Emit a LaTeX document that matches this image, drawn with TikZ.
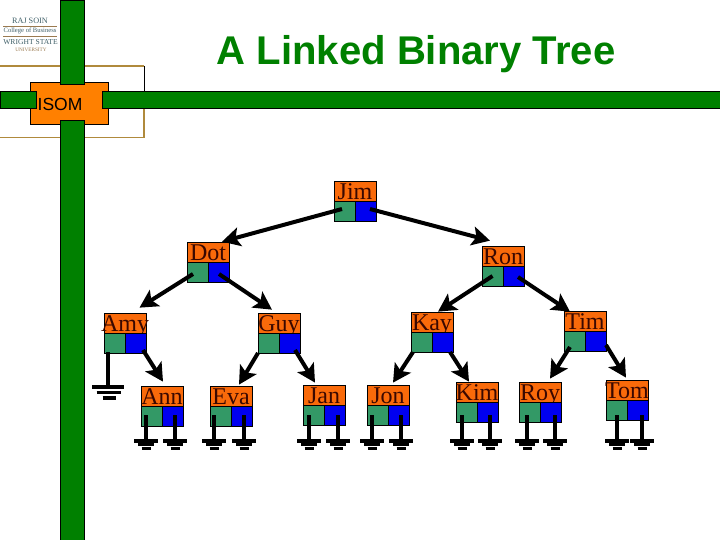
\documentclass[tikz,border=0pt]{standalone}
\usepackage{fontspec}
\setmainfont{Liberation Serif}
\newfontfamily\arialfont{Liberation Sans}
\usetikzlibrary{arrows.meta,calc}
\definecolor{barGreen}{HTML}{008000}
\definecolor{titleGreen}{HTML}{008000}
\definecolor{isomOrange}{HTML}{FF8000}
\definecolor{nodeOrange}{HTML}{F96A0A}
\definecolor{cellGreen}{HTML}{339966}
\definecolor{cellBlue}{HTML}{0000F0}
\definecolor{frameBrown}{HTML}{B08A3C}
\definecolor{labelInk}{HTML}{3A0800}
\definecolor{logoInk}{HTML}{3F5F68}
\definecolor{logoBrown}{HTML}{9A7A50}
\tikzset{
  bar/.style={draw=black,line width=0.7pt,fill=barGreen},
  frameline/.style={draw=frameBrown,line width=1.5pt},
  toplabel/.style={draw=black,line width=0.7pt,fill=nodeOrange,inner sep=0pt,minimum width=42pt,minimum height=20pt,
    text height=18.6pt,text depth=1pt,text=labelInk,font=\fontsize{24}{24}\selectfont},
  leftcell/.style={draw=black,line width=0.7pt,fill=cellGreen,inner sep=0pt,minimum width=21pt,minimum height=20pt},
  rightcell/.style={draw=black,line width=0.7pt,fill=cellBlue,inner sep=0pt,minimum width=21pt,minimum height=20pt},
  link/.style={draw=black,line width=4pt,-{Stealth[length=18pt,width=19pt,inset=4pt]}},
  wire/.style={draw=black,line width=4pt},
  gbar/.style={draw=black,line width=3.8pt},
  logotext/.style={inner sep=0pt,text=logoInk},
}
\newcommand{\tnode}[4]{%
  \node[toplabel] (#1-t) at (#2+21,#3+10) {\makebox[0pt]{#4}};
  \node[leftcell] (#1-l) at (#2+10.5,#3+30) {};
  \node[rightcell] (#1-r) at (#2+31.5,#3+30) {};
}
\newcommand{\tlink}[6]{%
  \draw[link] ([shift={(#2,#3)}]#1.center) -- ([shift={(#5,#6)}]#4.north);
}
\newcommand{\tground}[2]{%
  \coordinate (g#1a) at (#2,415);
  \coordinate (g#1b) at (#2,441);
  \draw[wire] (g#1a) -- (g#1b);
  \draw[gbar] ([xshift=-12pt]g#1b) -- ([xshift=12pt]g#1b);
  \draw[gbar] ([shift={(-8,3.5)}]g#1b) -- ([shift={(8,3.5)}]g#1b);
  \draw[gbar] ([shift={(-4.5,7.5)}]g#1b) -- ([shift={(4.5,7.5)}]g#1b);
}
\begin{document}
\begin{tikzpicture}[x=1pt,y=-1pt]
\useasboundingbox (0,0) rectangle (720,540);
% frame
\draw[frameline] (0,66) -- (144,66);
\draw[draw=black,line width=0.7pt] (144,66) -- (144,92);
\draw[frameline] (144,108) -- (144,137.5) -- (0,137.5);
% orange box
\node[draw=black,line width=0.7pt,fill=isomOrange,minimum width=78pt,minimum height=42pt,inner sep=0pt] (isom) at (69,103.5) {};
\node[inner sep=0pt,font=\arialfont\fontsize{17.5}{18}\selectfont] (isomtext) at (60,104) {ISOM};
% green bars
\fill[bar] (60.5,0) rectangle (84.5,84);
\fill[bar] (60.5,120.5) rectangle (84.5,540);
\fill[bar] (0,91) rectangle (36,108);
\fill[bar] (102.5,91) rectangle (720,108);
% logo
\node[logotext,font=\fontsize{8.2}{9}\selectfont] (logoa) at (30,20.5) {RAJ SOIN};
\draw[draw=logoBrown,line width=0.5pt] (3,26.5) -- (57,26.5);
\node[logotext,font=\fontsize{6.6}{8}\selectfont] (logob) at (30,31) {College of Business};
\draw[draw=logoBrown,line width=0.5pt] (3,36.5) -- (57,36.5);
\node[logotext,font=\fontsize{7.6}{9}\selectfont] (logoc) at (30.5,42.5) {WRIGHT STATE};
\node[logotext,text=logoBrown,font=\fontsize{5.2}{6}\selectfont] (logod) at (31,50) {UNIVERSITY};
% title
\node[inner sep=0pt,text=titleGreen,font=\arialfont\bfseries\fontsize{40.1}{41}\selectfont] (title) at (416,54) {A Linked Binary Tree};
% tree
\tnode{Jim}{334}{181}{Jim}
\tnode{Dot}{187}{242}{Dot}
\tnode{Ron}{482}{246}{Ron}
\tnode{Amy}{104}{313}{Amy}
\tnode{Guy}{258}{313}{Guy}
\tnode{Kay}{411}{312}{Kay}
\tnode{Tim}{564}{311}{Tim}
\tnode{Ann}{141}{386}{Ann}
\tnode{Eva}{210}{386}{Eva}
\tnode{Jan}{303}{385}{Jan}
\tnode{Jon}{367}{385}{Jon}
\tnode{Kim}{456}{382}{Kim}
\tnode{Roy}{519}{382}{Roy}
\tnode{Tom}{606}{380}{Tom}
% links
\tlink{Jim-l}{-2.5}{-2}{Dot-t}{14}{0}
\tlink{Jim-r}{4.5}{-2}{Ron-t}{-13}{-5}
\tlink{Dot-l}{-4.5}{2}{Amy-t}{14.5}{-5}
\tlink{Dot-r}{0.5}{2}{Guy-t}{-7}{-3}
\tlink{Ron-l}{0}{0}{Kay-t}{6}{0}
\tlink{Ron-r}{4.5}{1}{Tim-t}{-15}{1}
\tlink{Amy-r}{7.5}{7}{Ann-t}{1}{-4}
\tlink{Guy-l}{-10.5}{10}{Eva-t}{8}{-1}
\tlink{Guy-r}{5.5}{7}{Jan-t}{-9}{-2}
\tlink{Kay-l}{-8.5}{10}{Jon-t}{5}{-2}
\tlink{Kay-r}{7.5}{10}{Kim-t}{-8}{0}
\tlink{Tim-l}{-4.5}{6}{Roy-t}{10}{-3}
\tlink{Tim-r}{10.5}{4}{Tom-t}{-1}{-2}
% Amy ground
\coordinate (gAmya) at (108,352);
\coordinate (gAmyb) at (108,387);
\draw[wire] (gAmya) -- (gAmyb);
\draw[gbar] ([xshift=-16pt]gAmyb) -- ([xshift=16pt]gAmyb);
\draw[gbar] ([shift={(-11.5,5.5)}]gAmyb) -- ([shift={(12.5,5.5)}]gAmyb);
\draw[gbar] ([shift={(-5.5,11)}]gAmyb) -- ([shift={(7.5,11)}]gAmyb);
% other grounds
\tground{a}{146}\tground{b}{175}
\tground{c}{214}\tground{d}{244}
\tground{e}{309}\tground{f}{338}
\tground{g}{372}\tground{h}{401}
\tground{i}{462}\tground{j}{490}
\tground{k}{527}\tground{l}{555}
\tground{m}{617}\tground{n}{642}
\end{tikzpicture}
\end{document}
